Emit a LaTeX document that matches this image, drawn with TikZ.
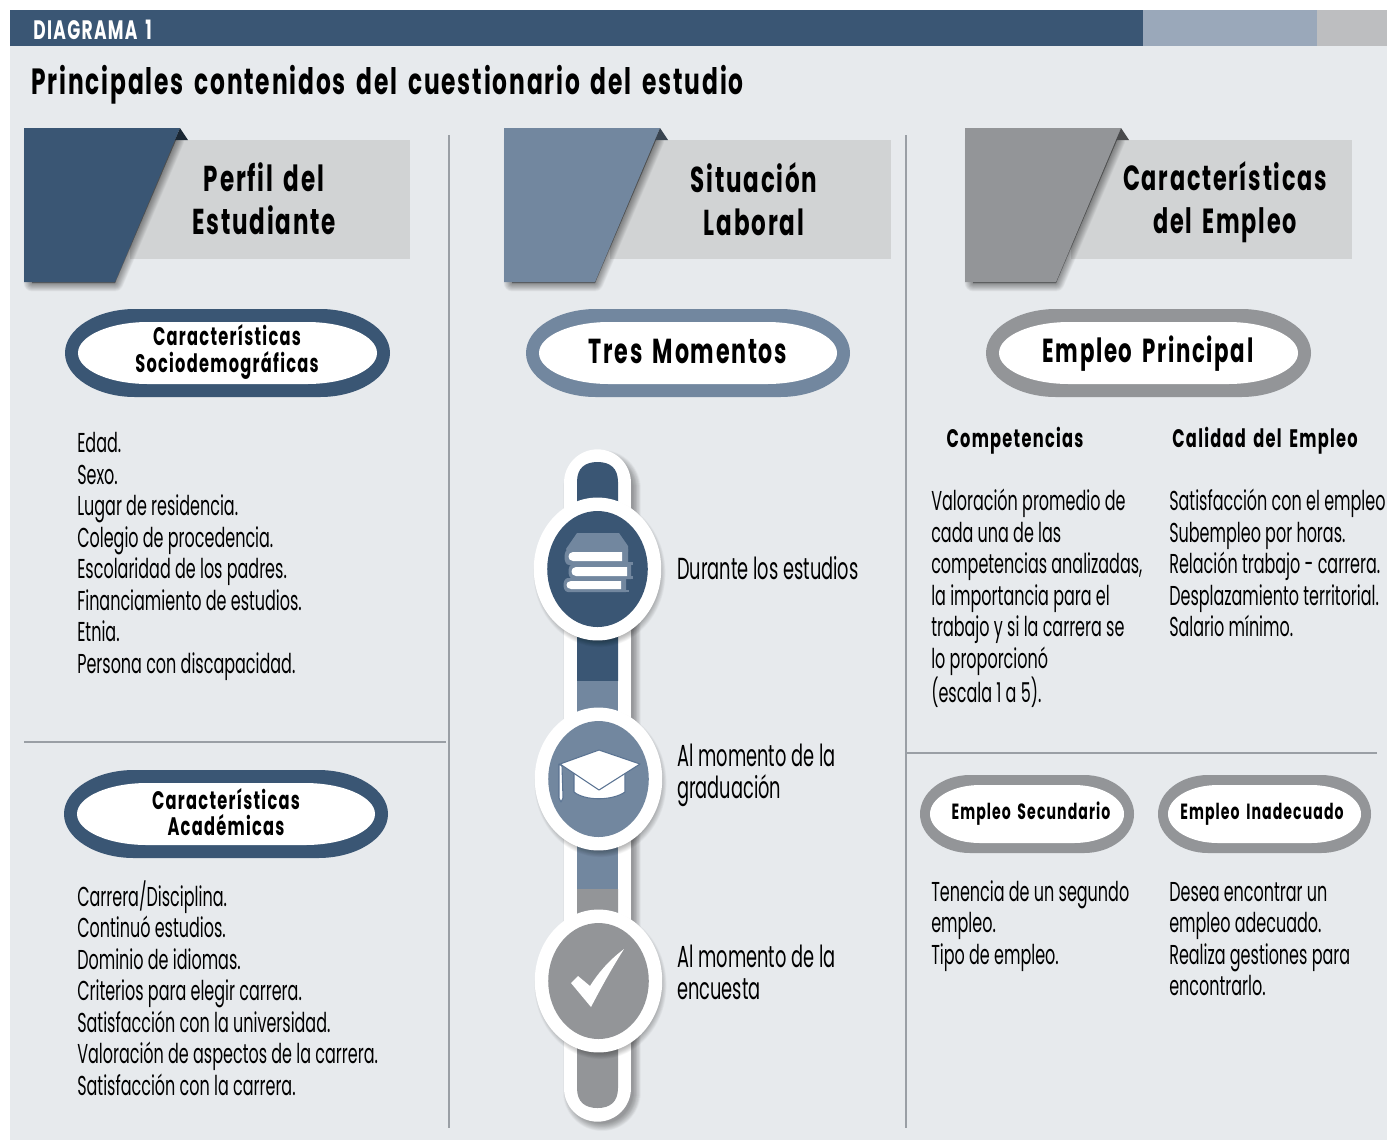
\documentclass[tikz,border=0pt]{standalone}
\usepackage{fontspec}
\setmainfont[FakeStretch=0.585]{Poppins}
\newfontfamily\hboldf[FakeStretch=0.64,LetterSpace=5,WordSpace=1.6,BoldFeatures={FakeStretch=0.64,LetterSpace=5,WordSpace=1.6}]{Poppins}
\newcommand{\hbold}{\hboldf\bfseries}
\usetikzlibrary{calc}
\definecolor{cdark}{HTML}{3A5674}
\definecolor{cmid}{HTML}{72879F}
\definecolor{cgray}{HTML}{939598}
\definecolor{cband}{HTML}{9AA8BA}
\definecolor{clight}{HTML}{BDBEC0}
\definecolor{cbg}{HTML}{E7EAED}
\definecolor{cbox}{HTML}{D1D3D4}
\definecolor{cline}{HTML}{9A9FA5}
\definecolor{cicon}{HTML}{5A7392}
\tikzset{
 x=0.75pt,y=-0.75pt,
 rule/.style={draw=cline,line width=0.8pt},
 bodytext/.style={anchor=north west,align=left,inner sep=0pt,font=\fontsize{20.5}{23.65}\selectfont,text=black},
 midtext/.style={anchor=north west,align=left,inner sep=0pt,font=\fontsize{22.8}{23.65}\selectfont,text=black},
 headtext/.style={align=center,inner sep=0pt,font=\hbold\fontsize{27}{32}\selectfont},
 pilltext/.style={align=center,inner sep=0pt,font=\hbold\fontsize{19}{20}\selectfont},
 pillbig/.style={align=center,inner sep=0pt,font=\hbold\fontsize{26}{28}\selectfont},
 pillsmall/.style={align=center,inner sep=0pt,font=\hbold\fontsize{16.5}{20}\selectfont},
 subhead/.style={align=center,inner sep=0pt,font=\hbold\fontsize{19}{22}\selectfont},
 iconline/.style={fill=white,draw=cicon,line width=.8pt,line join=round},
}
% rounded pill: x0 y0 x1 y1 end-radius border colour
\newcommand{\pillshape}[7]{%
 \pgfmathsetmacro{\pcy}{(#2+#4)/2}\pgfmathsetmacro{\pk}{.55*#5}\pgfmathsetmacro{\pv}{.55*(#4-#2)/2}%
 \path[#7] (#1+#5,#2) -- (#3-#5,#2) .. controls ($(#3-#5,#2)+(\pk,0)$) and ($(#3,\pcy)+(0,-\pv)$) .. (#3,\pcy)
   .. controls ($(#3,\pcy)+(0,\pv)$) and ($(#3-#5,#4)+(\pk,0)$) .. (#3-#5,#4) -- (#1+#5,#4)
   .. controls ($(#1+#5,#4)+(-\pk,0)$) and ($(#1,\pcy)+(0,\pv)$) .. (#1,\pcy)
   .. controls ($(#1,\pcy)+(0,-\pv)$) and ($(#1+#5,#2)+(-\pk,0)$) .. (#1+#5,#2) -- cycle;}
\newcommand{\pill}[6]{%
 \pillshape{#1}{#2}{#3}{#4}{#5}{}{fill=#6}%
 \pgfmathsetmacro{\qa}{#1+13}\pgfmathsetmacro{\qb}{#2+13}\pgfmathsetmacro{\qc}{#3-13}\pgfmathsetmacro{\qd}{#4-13}%
 \pillshape{\qa}{\qb}{\qc}{\qd}{#5}{}{fill=white}}
\newcommand{\pillsm}[6]{%
 \pillshape{#1}{#2}{#3}{#4}{#5}{}{fill=#6}%
 \pgfmathsetmacro{\qa}{#1+10}\pgfmathsetmacro{\qb}{#2+10}\pgfmathsetmacro{\qc}{#3-10}\pgfmathsetmacro{\qd}{#4-10}%
 \pillshape{\qa}{\qb}{\qc}{\qd}{#5}{}{fill=white}}
% soft shadow: shift, path
\newcommand{\softshadow}[2]{%
 \foreach \w in {1,...,14}{\fill[black,opacity=0.03,draw=black,line width=\w*0.9pt,line join=round,shift={#1}] #2;}}
% title tab: x-left, colour
\newcommand{\tab}[2]{%
 \softshadow{(3,6)}{(#1+5,134) -- (#1+149,134) -- (#1+88,277) -- (#1+5,277) -- cycle}
 \fill[#2] (#1,128) -- (#1+156,128) -- (#1+91,282) -- (#1,282) -- cycle;
 }
\newcommand{\bookstrip}[5]{% x0 x1 ytop ybottom colour
 \fill[#5] (#2,#3) -- (#1+5,#3) .. controls (#1-1,#3) and (#1-1,#4) .. (#1+5,#4) -- (#2,#4) -- cycle;}
\begin{document}
\begin{tikzpicture}
\useasboundingbox (0,0) rectangle (1387,1140);
\fill[white] (0,0) rectangle (1387,1140);
\fill[cbg] (10,46) rectangle (1387,1140);
\fill[cdark] (10,10) rectangle (1143,46);
\fill[cband] (1143,10) rectangle (1317,46);
\fill[clight] (1317,10) rectangle (1387,46);
\node[anchor=west,inner sep=0pt,text=white,font=\hbold\fontsize{20}{22}\selectfont] (dia) at (33,30) {DIAGRAMA 1};
\node[anchor=west,inner sep=0pt,font=\hbold\fontsize{27.35}{30}\selectfont] (title) at (31,85) {Principales contenidos del cuestionario del estudio};
% rules
\draw[rule] (449,135) -- (449,1128);
\draw[rule] (906,135) -- (906,1128);
\draw[rule] (24,742) -- (446,742);
\draw[rule] (907,753) -- (1377,753);
% header boxes
\fill[cbox] (130,140) rectangle (410,259);
\fill[cbox] (610,140) rectangle (891,259);
\fill[cbox] (1071,140) rectangle (1352,259);
\tab{24}{cdark}
\tab{504}{cmid}
\tab{965}{cgray}
\fill[cdark!45!black] (180,128) -- (188,140) -- (175,140) -- cycle;
\fill[cmid!50!black] (660,128) -- (668,140) -- (655,140) -- cycle;
\fill[cgray!50!black] (1121,128) -- (1129,140) -- (1116,140) -- cycle;
\node[headtext] (h1) at (264,199) {Perfil del\\Estudiante};
\node[headtext] (h2) at (754,199) {Situación\\Laboral};
\node[headtext,font=\hbold\fontsize{26.2}{32}\selectfont] (h3) at (1225,202) {Características\\del Empleo};
% pills
\pill{65}{309}{390}{397}{70}{cdark}
\pill{526}{309}{850}{397}{70}{cmid}
\pill{986}{309}{1311}{397}{70}{cgray}
\pill{64}{770}{388}{858}{70}{cdark}
\pillsm{920}{775}{1134}{853}{50}{cgray}
\pillsm{1158}{775}{1371}{853}{50}{cgray}
\node[pilltext] (p1) at (227,352) {Características\\Sociodemográficas};
\node[pillbig] (p2) at (688,351) {Tres Momentos};
\node[pillbig,font=\hbold\fontsize{25}{28}\selectfont] (p3) at (1148,354) {Empleo Principal};
\node[pilltext] (p4) at (226,812) {Características\\Académicas};
\node[pillsmall] (p5) at (1031,814) {Empleo Secundario};
\node[pillsmall] (p6) at (1262,814) {Empleo Inadecuado};
% column 1 text
\node[bodytext] (t1) at (77,432) {Edad.\\Sexo.\\Lugar de residencia.\\Colegio de procedencia.\\Escolaridad de los padres.\\Financiamiento de estudios.\\Etnia.\\Persona con discapacidad.};
\node[bodytext] (t2) at (77,880) {Carrera/Disciplina.\\Continuó estudios.\\Dominio de idiomas.\\Criterios para elegir carrera.\\Satisfacción con la universidad.\\Valoración de aspectos de la carrera.\\Satisfacción con la carrera.};
% column 2: bar
\foreach \w in {1,...,14}{\draw[black,opacity=0.028,line width=\w*0.9pt+46pt,line cap=round] (602,489) -- (602,1092);}
\draw[white,line width=50.5pt,line cap=round] (597.5,483) -- (597.5,1088);
\fill[cdark] (577,681) -- (577,482) .. controls (577,468) and (585,462) .. (597.5,462) .. controls (610,462) and (618,468) .. (618,482) -- (618,681) -- cycle;
\fill[cmid] (577,681) rectangle (618,889);
\fill[cgray] (577,889) -- (618,889) -- (618,1088) .. controls (618,1102) and (610,1108) .. (597.5,1108) .. controls (585,1108) and (577,1102) .. (577,1088) -- cycle;
\foreach \cx/\cy/\col in {597.5/569/cdark,598.5/779/cmid,598.5/981/cgray}{
 \foreach \w in {1,...,14}{\fill[black,opacity=0.025,draw=black,line width=\w*0.8pt] ($(\cx,\cy)+(2,4)$) ellipse[x radius=44pt,y radius=50pt];}
 \fill[white] (\cx,\cy) ellipse[x radius=47.8pt,y radius=53.6pt];
 \fill[\col] (\cx,\cy) ellipse[x radius=37.7pt,y radius=43.5pt];
}
% books
\fill[cmid] (577,533) -- (619,533) -- (628,546) -- (628,552) -- (568,552) -- (566,549) -- cycle;
\bookstrip{564}{628}{549}{565}{cmid}
\fill[cmid] (628,553) rectangle (625,564);
\fill[cmid] (628,562) rectangle (633,565);
\bookstrip{568}{631}{564}{579}{cmid}
\fill[cmid] (631,576) rectangle (633,579);
\bookstrip{563}{626}{578}{592}{cmid}
\fill[cmid] (626,590) rectangle (629,592);
\bookstrip{568}{622}{552}{561}{white}
\bookstrip{571}{627}{567}{576}{white}
\bookstrip{566}{621}{581}{589}{white}
% cap
\path[iconline] (574,771) -- (574,792) .. controls (585,801) and (612,801) .. (625,792) -- (625,771) -- cycle;
\path[iconline] (560,764) -- (599,750) -- (640,764) -- (599,790) -- cycle;
\path[iconline] (559,764) -- (562,766) -- (563,798) -- (561,802) -- (559,798) -- cycle;
% check
\fill[white] (571,983) -- (578,976) -- (590,986) .. controls (600,970) and (612,958) .. (624,949) .. controls (612,968) and (602,986) .. (591,1007) -- cycle;
\node[midtext] (m1) at (677,556) {Durante los estudios};
\node[midtext] (m2) at (677,744) {Al momento de la\\graduación};
\node[midtext] (m3) at (677,945) {Al momento de la\\encuesta};
% column 3
\node[subhead] (s1) at (1015,441) {Competencias};
\node[subhead] (s2) at (1265,441) {Calidad del Empleo};
\node[bodytext] (c1) at (931,489) {Valoración promedio de\\cada una de las\\competencias analizadas,\\la importancia para el\\trabajo y si la carrera se\\lo proporcionó\\(escala 1 a 5).};
\node[bodytext] (c2) at (1169,489) {Satisfacción con el empleo\\Subempleo por horas.\\Relación trabajo - carrera.\\Desplazamiento territorial.\\Salario mínimo.};
\node[bodytext] (c3) at (931,880) {Tenencia de un segundo\\empleo.\\Tipo de empleo.};
\node[bodytext] (c4) at (1169,882) {Desea encontrar un\\empleo adecuado.\\Realiza gestiones para\\encontrarlo.};
\end{tikzpicture}
\end{document}
